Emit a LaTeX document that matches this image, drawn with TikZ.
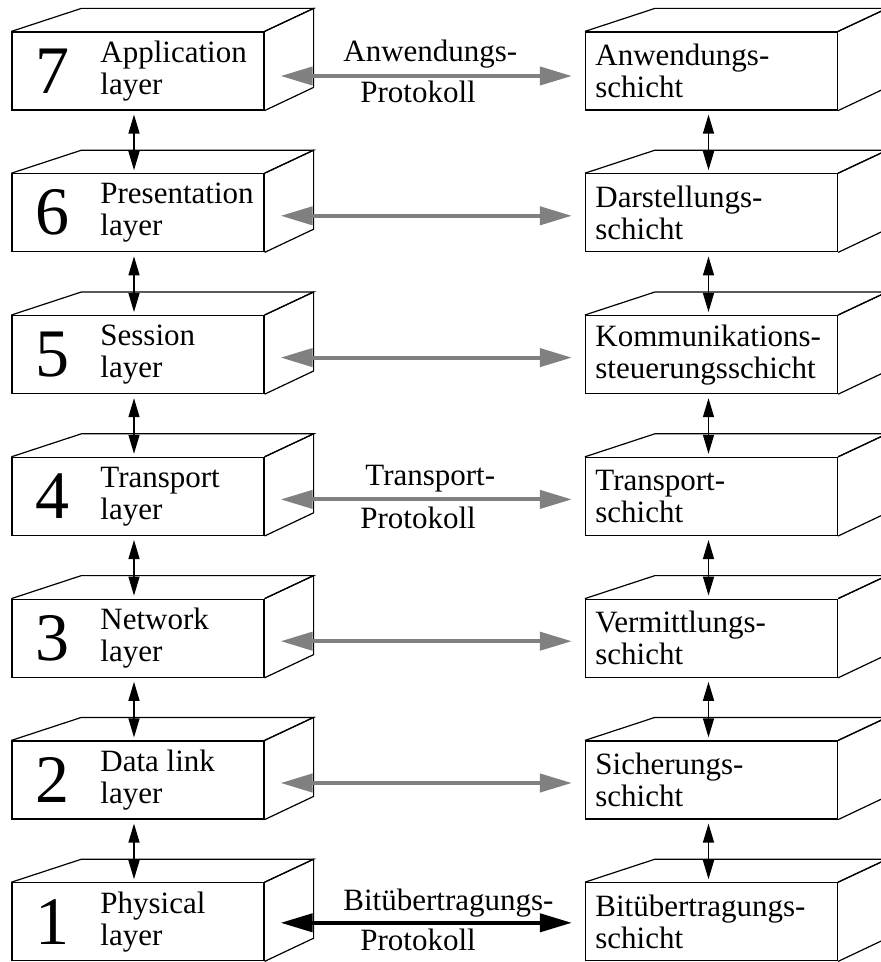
\documentclass[tikz,border=0pt]{standalone}
\usepackage{fontspec}
\setmainfont{Liberation Serif}
\usetikzlibrary{calc,arrows.meta}
\tikzstyle{front} = [draw, rectangle, minimum width=126pt, minimum height=39pt, inner sep=0pt, line width=.6pt]
\tikzstyle{face} = [line width=.6pt]
\tikzstyle{nummer} = [font=\fontsize{34}{34}\selectfont, inner sep=0pt]
\tikzstyle{ltext} = [font=\fontsize{15.5}{16}\selectfont, align=left, inner sep=0pt, anchor=west]
\tikzstyle{ptext} = [font=\fontsize{15.5}{16}\selectfont, inner sep=0pt, anchor=base west]
\tikzstyle{stack} = [{Triangle[length=9.5pt,width=5.5pt]}-{Triangle[length=9.5pt,width=5.5pt]}, line width=.65pt]
\tikzstyle{peer} = [{Triangle[length=16pt,width=9pt]}-{Triangle[length=16pt,width=9pt]}, line width=2pt, draw=gray, fill=gray]
\begin{document}
\begin{tikzpicture}[x=.5pt,y=-.5pt]
    \useasboundingbox (0,0) rectangle (881,962);
    % the two stacks of layers
    \foreach \n/\en/\de in {7/{Application\\layer}/{Anwendungs-\\schicht},
                            6/{Presentation\\layer}/{Darstellungs-\\schicht},
                            5/{Session\\layer}/{Kommunikations-\\steuerungsschicht},
                            4/{Transport\\layer}/{Transport-\\schicht},
                            3/{Network\\layer}/{Vermittlungs-\\schicht},
                            2/{Data link\\layer}/{Sicherungs-\\schicht},
                            1/{Physical\\layer}/{Bitübertragungs-\\schicht}} {
        \pgfmathsetmacro{\yc}{71+(7-\n)*141.8}
        \node[front] (L\n) at (138,\yc) {};
        \node[front] (R\n) at (711.5,\yc) {};
        \foreach \s in {L\n,R\n} {
            \draw[face] (\s.north west) -- ++(70,-23) -- ($(\s.north east)+(49,-23)$) -- (\s.north east);
            \draw[face] (\s.north east) -- ++(49,-23) -- ++(0,79) -- (\s.south east);
        }
        \node[nummer] (N\n) at (52,\yc) {\n};
        \node[ltext] (E\n) at (100,\yc) {\en};
        \node[ltext] (D\n) at (595,\yc) {\de};
    }
    % between the layers
    \foreach \n [evaluate=\n as \m using int(\n-1)] in {7,...,2} {
        \draw[stack] ($(L\n.south)+(-4,4)$) -- ($(L\m.north)+(-4,-3)$);
        \draw[stack] ($(R\n.south)+(-3,4)$) -- ($(R\m.north)+(-3,-3)$);
    }
    % peer protocols
    \foreach \n in {6,5,3,2}
        \draw[peer] ($(L\n.east)+(16,3)$) -- ($(R\n.west)+(-13,3)$);
    \draw[peer] ($(L7.east)+(16,5)$) -- ($(R7.west)+(-13,5)$);
    \draw[peer] ($(L4.east)+(16,3)$) -- ($(R4.west)+(-13,3)$);
    \draw[peer, draw=black, fill=black] ($(L1.east)+(16,1)$) -- ($(R1.west)+(-13,1)$);
    \node[ptext] (A7) at (343,62) {Anwendungs-};
    \node[ptext] (P7) at (360,103) {Protokoll};
    \node[ptext] (A4) at (365,485) {Transport-};
    \node[ptext] (P4) at (360,528) {Protokoll};
    \node[ptext] (A1) at (343,910) {Bitübertragungs-};
    \node[ptext] (P1) at (360,950) {Protokoll};
\end{tikzpicture}
\end{document}
